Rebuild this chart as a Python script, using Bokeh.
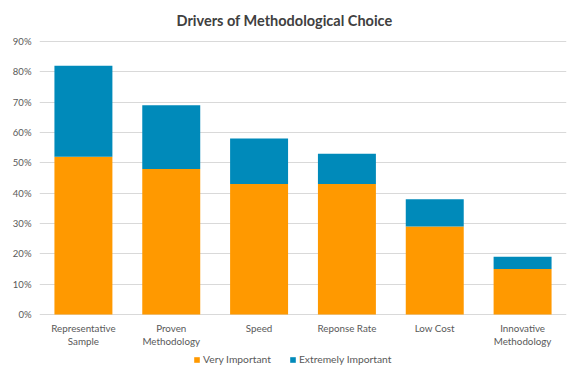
from bokeh.plotting import figure
from bokeh.models import ColumnDataSource, Legend, LegendItem, NumeralTickFormatter, FixedTicker, Range1d
from bokeh.core.properties import value
from bokeh.embed import file_html
from bokeh.resources import INLINE

title = "Drivers of Methodological Choice"
categories = ["Representative Sample", "Proven Methodology", "Speed", "Reponse Rate", "Low Cost", "Innovative Methodology"]
tick_line1 = ["Representative", "Proven", "Speed", "Reponse Rate", "Low Cost", "Innovative"]
tick_line2 = ["Sample", "Methodology", "", "", "", "Methodology"]
very_important = [0.52, 0.48, 0.43, 0.43, 0.29, 0.15]
extremely_important = [0.30, 0.21, 0.15, 0.10, 0.09, 0.04]
series = ["Very Important", "Extremely Important"]
colors = ["#FF9900", "#008ABA"]
y_ticks = [0.0, 0.1, 0.2, 0.3, 0.4, 0.5, 0.6, 0.7, 0.8, 0.9]

FONT = "Lato"
GREY = "#595959"

W, H = 568, 370
TOP, LEFT, RIGHT = 41, 39, 2       # canvas row of the 90% line, left/right of the bar area
ZERO_PX = 314                      # canvas row of the 0% line
Y_MAX = 0.9
unit = Y_MAX / (ZERO_PX - TOP)     # data units per pixel
y_start = -(H - ZERO_PX) * unit    # frame extends below 0 to hold category labels + legend
y_end = Y_MAX + TOP * unit         # ... and above 90% to hold the title

source = ColumnDataSource(dict(cat=categories, v=very_important, e=extremely_important))

p = figure(x_range=categories, y_range=Range1d(y_start, y_end), width=W, height=H,
           output_backend="svg", toolbar_location=None,
           min_border_left=LEFT, min_border_right=RIGHT, min_border_top=0, min_border_bottom=0)

r = p.vbar_stack(["v", "e"], x="cat", width=0.66, color=colors, source=source, line_color=None)

p.outline_line_color = None
p.xgrid.grid_line_color = None
p.ygrid.grid_line_color = "#D9D9D9"
p.ygrid.ticker = FixedTicker(ticks=y_ticks)

p.yaxis.ticker = FixedTicker(ticks=y_ticks)
p.yaxis.formatter = NumeralTickFormatter(format="0%")
p.yaxis.axis_line_color = None
p.yaxis.major_tick_line_color = None
p.yaxis.major_tick_out = 0
p.yaxis.minor_tick_line_color = None
p.yaxis.major_label_text_font = FONT
p.yaxis.major_label_text_font_size = "9.5px"
p.yaxis.major_label_text_color = GREY
p.yaxis.major_label_standoff = 8

p.xaxis.visible = False

# title, centred on the whole chart (not the bar area)
px_per_cat = (W - LEFT - RIGHT) / len(categories)
title_x = len(categories) / 2 + (W / 2 - (LEFT + (W - LEFT - RIGHT) / 2)) / px_per_cat
tsrc = ColumnDataSource(dict(x=[title_x], y=[y_end - 20 * unit], t=[title]))
p.text(x="x", y="y", text="t", source=tsrc, text_align="center", text_baseline="middle",
       text_font=value(FONT), text_font_size="14.5px", text_font_style="bold", text_color="#404040")

# category labels drawn in the extended frame below the 0% line (two lines where needed)
lab = ColumnDataSource(dict(cat=categories, l1=tick_line1, l2=tick_line2,
                            y1=[-13.5 * unit] * len(categories), y2=[-26 * unit] * len(categories)))
for col_t, col_y in (("l1", "y1"), ("l2", "y2")):
    p.text(x="cat", y=col_y, text=col_t, source=lab, text_align="center", text_baseline="middle",
           text_font=value(FONT), text_font_size="9.8px", text_color=GREY)

legend = Legend(items=[LegendItem(label=series[0], renderers=[r[0]]),
                       LegendItem(label=series[1], renderers=[r[1]])],
                orientation="horizontal", location=(154, 5),
                label_text_font=FONT, label_text_font_size="10.3px", label_text_color=GREY,
                glyph_width=7, glyph_height=7, spacing=18, padding=0, margin=0,
                label_standoff=3, border_line_color=None, background_fill_alpha=0)
p.add_layout(legend, "center")

open("out.html", "w").write(file_html(p, INLINE))
